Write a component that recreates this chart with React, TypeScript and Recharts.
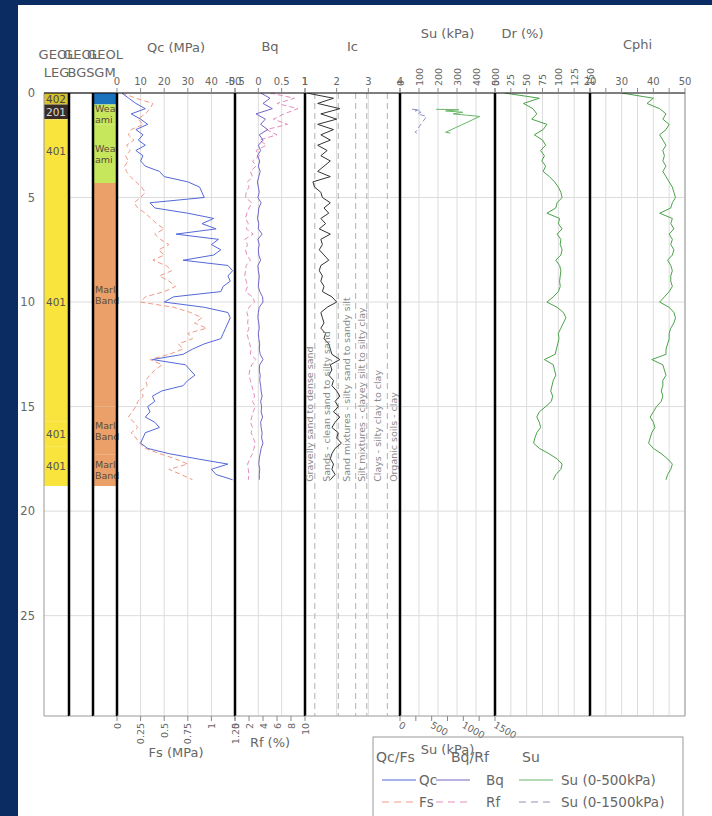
import React from 'react';
import {
  LineChart,
  Line,
  XAxis,
  YAxis,
  CartesianGrid,
  ReferenceArea,
  ReferenceLine,
  ReferenceDot,
} from 'recharts';

const FONT = '"DejaVu Sans", Verdana, sans-serif';

// CPT sampling depths (m)
const depths = [
  0, 0.25, 0.5, 0.75, 1, 1.25, 1.5, 1.75,
  2, 2.25, 2.5, 2.75, 3, 3.25, 3.5, 3.75,
  4, 4.25, 4.5, 4.75, 5, 5.25, 5.5, 5.75,
  6, 6.25, 6.5, 6.75, 7, 7.25, 7.5, 7.75,
  8, 8.25, 8.5, 8.75, 9, 9.25, 9.5, 9.75,
  10, 10.25, 10.5, 10.75, 11, 11.25, 11.5, 11.75,
  12, 12.25, 12.5, 12.75, 13, 13.25, 13.5, 13.75,
  14, 14.25, 14.5, 14.75, 15, 15.25, 15.5, 15.75,
  16, 16.25, 16.5, 16.75, 17, 17.25, 17.5, 17.75,
  18, 18.25, 18.5,
];

// cone resistance (MPa)
const qc = [
  2, 5, 8, 12, 6, 10, 13, 8,
  11, 9, 12, 8, 11, 10, 12, 18,
  20, 30, 35, 36, 37, 14, 16, 30,
  41, 36, 42, 25, 43, 40, 44, 41,
  28, 47, 49, 47, 48, 45, 44, 24,
  20, 37, 47, 48, 47, 46, 45, 44,
  37, 32, 28, 15, 29, 31, 33, 30,
  28, 19, 15, 16, 13, 14, 12, 16,
  18, 12, 11, 10, 13, 22, 34, 47,
  40, 42, 49,
];

// sleeve friction (MPa)
const fs = [
  0.05, 0.2, 0.38, 0.35, 0.3, 0.22, 0.28, 0.15,
  0.12, 0.18, 0.1, 0.14, 0.09, 0.12, 0.08, 0.1,
  0.14, 0.2, 0.26, 0.3, 0.25, 0.18, 0.22, 0.3,
  0.36, 0.42, 0.5, 0.4, 0.46, 0.55, 0.44, 0.5,
  0.38, 0.52, 0.58, 0.45, 0.55, 0.62, 0.5, 0.3,
  0.25, 0.6, 0.78, 0.9, 0.82, 0.95, 0.75, 0.8,
  0.65, 0.7, 0.55, 0.35, 0.48, 0.4, 0.35, 0.3,
  0.32, 0.25, 0.28, 0.22, 0.2, 0.16, 0.12, 0.18,
  0.22, 0.15, 0.2, 0.24, 0.3, 0.45, 0.62, 0.75,
  0.55, 0.68, 0.8,
];

const bq = [
  0.05, 0.25, 0.1, 0.3, -0.05, 0.15, 0.05, 0.2,
  0.02, 0.1, 0, 0.05, -0.02, 0.03, 0, 0.04,
  0.01, -0.02, 0, 0.02, -0.01, 0.06, 0.01, 0,
  -0.02, 0.01, 0, 0.08, -0.01, 0.02, 0, 0.01,
  0.05, -0.01, 0, 0.02, 0.01, 0, 0.03, 0.09,
  0.1, 0.02, 0, -0.01, 0.01, 0.02, 0, 0.01,
  0.03, 0.02, 0.04, 0.1, 0.03, 0.02, 0.04, 0.03,
  0.05, 0.06, 0.08, 0.05, 0.07, 0.06, 0.09, 0.05,
  0.06, 0.08, 0.07, 0.1, 0.06, 0.04, 0.02, 0.01,
  0.03, 0.02, 0.02,
];

// friction ratio (%)
const rf = [
  5, 8.5, 6, 9, 7, 5.5, 7.5, 4.5,
  6, 3.5, 4.5, 3, 3.5, 2.5, 3, 2.2,
  2.5, 1.8, 2, 1.6, 1.5, 2.4, 2, 1.7,
  1.5, 1.9, 1.6, 2.6, 1.4, 1.8, 1.5, 1.7,
  2.2, 1.6, 1.5, 1.4, 1.6, 1.8, 1.5, 2.5,
  2.8, 2, 1.7, 1.9, 1.8, 2, 1.7, 1.9,
  2.1, 2.3, 2.2, 3, 2.4, 2.1, 2, 2.2,
  2.4, 2.6, 2.8, 2.5, 2.9, 2.6, 2.4, 2.2,
  2.5, 2.3, 2.6, 2.9, 2.7, 2.5, 2.1, 1.8,
  1.9, 2, 1.9,
];

// soil behaviour type index
const ic = [
  1.05, 1.9, 1.4, 2.1, 1.5, 2.0, 1.4, 1.9,
  1.5, 1.8, 1.4, 1.7, 1.5, 1.8, 1.6, 1.4,
  1.8, 1.25, 1.3, 1.5, 1.55, 1.8, 1.6, 1.75,
  1.5, 1.65, 1.45, 1.8, 1.5, 1.55, 1.45, 1.6,
  1.75, 1.5, 1.45, 1.55, 1.5, 1.6, 1.55, 1.85,
  2.0, 1.7, 1.5, 1.55, 1.6, 1.5, 1.65, 1.6,
  1.75, 1.8, 1.85, 2.1, 1.8, 1.85, 1.75, 1.9,
  1.85, 2.0, 2.1, 1.95, 2.05, 1.9, 2.1, 1.95,
  1.85, 2.05, 2.0, 2.15, 1.95, 1.85, 1.8, 1.9,
  1.85, 1.95, 1.8,
];

// relative density (%)
const dr = [
  15, 70, 45, 60, 66, 58, 82, 76,
  62, 75, 80, 72, 78, 74, 80, 76,
  86, 94, 100, 104, 106, 98, 96, 82,
  102, 100, 106, 98, 104, 103, 106, 104,
  96, 102, 104, 103, 102, 103, 100, 92,
  82, 98, 108, 112, 108, 104, 100, 101,
  99, 97, 95, 78, 92, 94, 96, 92,
  90, 88, 91, 89, 80, 70, 66, 70,
  72, 66, 63, 61, 70, 85, 98, 106,
  104, 96, 92,
];

// friction angle (deg)
const cphi = [
  30, 40, 38, 42, 44, 43, 45, 44,
  42, 43, 44, 43, 43.5, 43, 44, 43,
  44, 45, 46, 46.5, 47, 46, 45.5, 42,
  46, 45.5, 46.5, 45, 46, 45.5, 46.5, 46,
  44.5, 45.5, 46, 45.5, 45.5, 46, 45, 43.5,
  42, 45, 46.5, 47, 46.5, 45.5, 45, 45,
  44.5, 44, 44, 39.5, 43, 43.5, 44, 43,
  43, 42.5, 43, 42.5, 41, 40, 39, 40,
  40.5, 39.5, 39, 38.5, 40, 42.5, 44.5, 46,
  45.5, 44.5, 44,
];

// undrained shear strength, only a few readings near the top
const suDepths = [0.78, 0.8, 0.86, 0.92, 1.0, 1.06, 1.12, 1.5, 1.88, 1.92];
const su = [190, 310, 240, 330, 280, 350, 420, null, 240, 265];

// geology columns
const legTop = [0, 0.55, 1.25, 4.3, 15.7, 16.9];
const legBase = [0.55, 1.25, 4.3, 15.7, 16.9, 18.8];
const legCode = ['402', '201', '401', '401', '401', '401'];

const gmTop = [0, 0.55, 1.5, 4.3, 15.0, 17.3];
const gmBase = [0.55, 1.5, 4.3, 15.0, 17.3, 18.8];
const gmName = ['', 'Wea ami', 'Wea ami', 'Marl Band', 'Marl Band', 'Marl Band'];

// Ic zone boundaries + names
const icBounds = [1.31, 2.05, 2.6, 2.95, 3.6];
const sbtNames = [
  'Gravelly sand to dense sand',
  'Sands - clean sand to silty sand',
  'Sand mixtures - silty sand to sandy silt',
  'Silt mixtures - clayey silt to silty clay',
  'Clays - silty clay to clay',
  'Organic soils - clay',
];

const depthTicks = [0, 5, 10, 15, 20, 25];

const cptRows = depths.map((depth, i) => ({
  depth,
  qc: qc[i],
  fs: fs[i],
  bq: bq[i],
  rf: rf[i],
  ic: ic[i],
  dr: dr[i],
  cphi: cphi[i],
}));
const suRows = suDepths.map((depth, i) => ({ depth, su: su[i] }));

const LEG_COLORS: any = { '402': '#d5c12f', '201': '#3a2c27', '401': '#f8e43c' };
const LEG_TEXT: any = { '402': '#444', '201': '#ddd', '401': '#555' };
const GM_COLORS: any = { '': '#1b72bd', 'Wea ami': '#c6e65c', 'Marl Band': '#eaa068' };

const C = {
  qc: '#5568d8',
  fs: '#f29a85',
  bq: '#7266c8',
  rf: '#e58bbd',
  su: '#69b869',
  su2: '#8b93c4',
  ic: '#333',
  green: '#4aa24a',
};

// layout
const CH = 816;
const PLOT_TOP = 93;
const PLOT_BOTTOM = 716;
const TOP_H = 70;
const BOT_H = 46;
const PAD = 26;
const DEPTH_MAX = 29.8;
const GRID = '#dcdcdc';
const tickStyle = { fontSize: 10, fill: '#666' };
const topLine = { stroke: '#111', strokeWidth: 1.2 };
const botLine = { stroke: '#aaa' };
const tl = { stroke: '#888' };

function Track({ x0, x1, data, depthAxis = false, children }: any) {
  const yw = depthAxis ? 36 : 0;
  const padL = depthAxis ? 4 : PAD;
  return (
    <div style={{ position: 'absolute', left: x0 - padL - yw, top: 0 }}>
      <LineChart
        layout="vertical"
        width={x1 - x0 + padL + yw + PAD}
        height={CH}
        data={data}
        margin={{ top: PLOT_TOP - TOP_H, bottom: CH - PLOT_BOTTOM - BOT_H, left: padL, right: PAD }}
        style={{ fontFamily: FONT }}
      >
        <YAxis
          type="number"
          dataKey="depth"
          domain={[0, DEPTH_MAX]}
          ticks={depthTicks}
          interval={0}
          hide={!depthAxis}
          width={36}
          tickLine={false}
          axisLine={{ stroke: '#999' }}
          tick={{ fontSize: 11.5, fill: '#666' }}
          tickMargin={3}
          allowDataOverflow
        />
        {children}
      </LineChart>
    </div>
  );
}

function AxisTitle({ viewBox, lines, baseY, shift = 0 }: any) {
  const cx = viewBox.x + viewBox.width / 2 + shift;
  return (
    <text x={cx} y={baseY} textAnchor="middle" fontSize={13} fill="#666" fontFamily={FONT}>
      {lines.map((l: string, i: number) => (
        <tspan key={i} x={cx} dy={i ? 18 : 0}>{l}</tspan>
      ))}
    </text>
  );
}

function LayerLabel({ viewBox, lines, color, size = 9.5 }: any) {
  if (!viewBox) return null;
  const x = viewBox.x + 2;
  const cy = viewBox.y + viewBox.height / 2;
  return (
    <text x={x} y={cy + size * 0.36 - (lines.length - 1) * 5.5} fontSize={size} fill={color} fontFamily={FONT}>
      {lines.map((l: string, i: number) => (
        <tspan key={i} x={x} dy={i ? 11 : 0}>{l}</tspan>
      ))}
    </text>
  );
}

function SbtLabel({ viewBox, text }: any) {
  const x = viewBox.x + viewBox.width / 2;
  const y = viewBox.y + viewBox.height / 2;
  return (
    <text x={x} y={y} transform={`rotate(-90 ${x} ${y})`} fontSize={9.5} fill="#8a8a8a"
      dominantBaseline="central" fontFamily={FONT}>
      {text}
    </text>
  );
}

const upTick = (p: any) => (
  <text x={p.x} y={p.y} transform={`rotate(-90 ${p.x} ${p.y})`} textAnchor="start"
    dominantBaseline="central" fontSize={9.5} fill="#666">
    {p.payload.value}
  </text>
);

const downTick = (p: any) => (
  <text x={p.x} y={p.y} transform={`rotate(-90 ${p.x} ${p.y})`} textAnchor="end"
    dominantBaseline="central" fontSize={9.5} fill="#666">
    {p.payload.value}
  </text>
);

const slantTick = (p: any) =>
  p.payload.value % 500 === 0 ? (
    <text x={p.x - 2} y={p.y + 4} transform={`rotate(30 ${p.x - 2} ${p.y + 4})`} textAnchor="start"
      fontSize={9.5} fill="#666">
      {p.payload.value}
    </text>
  ) : (
    <g />
  );

function emptyBottom() {
  return (
    <XAxis xAxisId="b" type="number" domain={[0, 1]} tick={false} tickLine={false}
      height={BOT_H} axisLine={botLine} allowDataOverflow />
  );
}

// geology tracks have no series of their own; an invisible line gives the x axis its scale
function scaleAnchor() {
  return (
    <Line xAxisId="t" dataKey="depth" stroke="none" dot={false} activeDot={false}
      isAnimationActive={false} />
  );
}

// thick black divider, drawn as the left edge of each track so the next chart can't paint over it
function divider(x: number) {
  return <ReferenceLine xAxisId="t" x={x} stroke="#000" strokeWidth={2.5} ifOverflow="visible" />;
}

const legendGroups = [
  { title: 'Qc/Fs', tx: 4, lx: 10, nx: 47, items: [['Qc', C.qc, false], ['Fs', C.fs, true]] },
  { title: 'Bq/Rf', tx: 79, lx: 64, nx: 114, items: [['Bq', C.bq, false], ['Rf', C.rf, true]] },
  { title: 'Su', tx: 150, lx: 147, nx: 189, items: [['Su (0-500kPa)', C.su, false], ['Su (0-1500kPa)', C.su2, true]] },
];

function LegendBox() {
  return (
    <svg width={312} height={90} style={{ position: 'absolute', left: 372, top: 736, fontFamily: FONT }}>
      <rect x={1} y={1} width={310} height={100} fill="none" stroke="#999" />
      {legendGroups.map((g) => (
        <g key={g.title}>
          <text x={g.tx} y={26} fontSize={14} fill="#666">{g.title}</text>
          {g.items.map((it: any, j: number) => (
            <g key={it[0]}>
              <line x1={g.lx} x2={g.lx + 34} y1={44 + j * 22} y2={44 + j * 22} stroke={it[1]}
                strokeDasharray={it[2] ? '7 5' : undefined} />
              <text x={g.nx} y={49 + j * 22} fontSize={13.5} fill="#666">{it[0]}</text>
            </g>
          ))}
        </g>
      ))}
    </svg>
  );
}

export default function App() {
  const icEdges = [1, ...icBounds, 4];
  return (
    <div style={{ position: 'absolute', left: 0, top: 0, width: 712, height: 816, background: '#0b2b63', overflow: 'hidden', fontFamily: FONT }}>
      <div style={{ position: 'absolute', left: 18, top: 5, width: 694, height: 811, background: '#fff' }} />

      {/* GEOL LEG */}
      <Track x0={44} x1={69} data={cptRows} depthAxis>
        <XAxis xAxisId="t" orientation="top" type="number" domain={[0, 1]} tick={false} tickLine={false}
          allowDataOverflow height={TOP_H} axisLine={topLine}
          label={<AxisTitle lines={['GEOL', 'LEG']} baseY={59} />} />
        {emptyBottom()}
        <CartesianGrid xAxisId="t" vertical={false} stroke={GRID} />
        {scaleAnchor()}
        {legTop.map((t, i) => (
          <ReferenceArea key={i} xAxisId="t" x1={0} x2={1} y1={t} y2={legBase[i]} ifOverflow="visible"
            fill={LEG_COLORS[legCode[i]]} fillOpacity={1} stroke="none"
            label={<LayerLabel lines={[legCode[i]]} color={LEG_TEXT[legCode[i]]} size={10.5} />} />
        ))}
      </Track>

      {/* GEOL BGS */}
      <Track x0={69} x1={93} data={cptRows}>
        <XAxis xAxisId="t" orientation="top" type="number" domain={[0, 1]} tick={false} tickLine={false}
          allowDataOverflow height={TOP_H} axisLine={topLine}
          label={<AxisTitle lines={['GEOL', 'BGS']} baseY={59} />} />
        {emptyBottom()}
        <CartesianGrid xAxisId="t" vertical={false} stroke={GRID} />
        {scaleAnchor()}
        {divider(0)}
      </Track>

      {/* GEOL GM */}
      <Track x0={93} x1={117} data={cptRows}>
        <XAxis xAxisId="t" orientation="top" type="number" domain={[0, 1]} tick={false} tickLine={false}
          allowDataOverflow height={TOP_H} axisLine={topLine}
          label={<AxisTitle lines={['GEOL', 'GM']} baseY={59} />} />
        {emptyBottom()}
        <CartesianGrid xAxisId="t" vertical={false} stroke={GRID} />
        {scaleAnchor()}
        {gmTop.map((t, i) => (
          <ReferenceArea key={i} xAxisId="t" x1={0} x2={1} y1={t} y2={gmBase[i]} ifOverflow="visible"
            fill={GM_COLORS[gmName[i]]} fillOpacity={1} stroke="none"
            label={<LayerLabel lines={gmName[i] ? gmName[i].split(' ') : []} color="#5a4a3a" />} />
        ))}
        {divider(0)}
      </Track>

      {/* Qc / Fs */}
      <Track x0={117} x1={235} data={cptRows}>
        <XAxis xAxisId="t" orientation="top" type="number" domain={[0, 50]} ticks={[0, 10, 20, 30, 40, 50]}
          interval={0} height={TOP_H} axisLine={topLine} tickLine={tl} tickSize={5} tickMargin={3}
          tick={tickStyle} allowDataOverflow label={<AxisTitle lines={['Qc (MPa)']} baseY={52} />} />
        <XAxis xAxisId="b" type="number" domain={[0, 1.25]} ticks={[0, 0.25, 0.5, 0.75, 1, 1.25]}
          interval={0} height={BOT_H} axisLine={botLine} tickLine={tl} tickSize={5} tickMargin={2}
          tick={downTick} allowDataOverflow label={<AxisTitle lines={['Fs (MPa)']} baseY={757} />} />
        <CartesianGrid xAxisId="t" stroke={GRID} />
        <Line xAxisId="b" dataKey="fs" stroke={C.fs} strokeDasharray="5 3" strokeWidth={1} dot={false} isAnimationActive={false} />
        <Line xAxisId="t" dataKey="qc" stroke={C.qc} strokeWidth={1} dot={false} isAnimationActive={false} />
        {divider(0)}
      </Track>

      {/* Bq / Rf */}
      <Track x0={235} x1={305} data={cptRows}>
        <XAxis xAxisId="t" orientation="top" type="number" domain={[-0.5, 1]} ticks={[-0.5, 0, 0.5, 1]}
          interval={0} height={TOP_H} axisLine={topLine} tickLine={tl} tickSize={5} tickMargin={3}
          tick={tickStyle} allowDataOverflow label={<AxisTitle lines={['Bq']} baseY={51} />} />
        <XAxis xAxisId="b" type="number" domain={[0, 10]} ticks={[0, 2, 4, 6, 8, 10]}
          interval={0} height={BOT_H} axisLine={botLine} tickLine={tl} tickSize={5} tickMargin={2}
          tick={downTick} allowDataOverflow label={<AxisTitle lines={['Rf (%)']} baseY={747} />} />
        <CartesianGrid xAxisId="t" stroke={GRID} />
        <Line xAxisId="b" dataKey="rf" stroke={C.rf} strokeDasharray="5 3" strokeWidth={1} dot={false} isAnimationActive={false} />
        <Line xAxisId="t" dataKey="bq" stroke={C.bq} strokeWidth={1} dot={false} isAnimationActive={false} />
        {divider(-0.5)}
      </Track>

      {/* Ic */}
      <Track x0={305} x1={400} data={cptRows}>
        <XAxis xAxisId="t" orientation="top" type="number" domain={[1, 4]} ticks={[1, 2, 3, 4]}
          interval={0} height={TOP_H} axisLine={topLine} tickLine={tl} tickSize={5} tickMargin={3}
          tick={tickStyle} allowDataOverflow label={<AxisTitle lines={['Ic']} baseY={51} />} />
        {emptyBottom()}
        <CartesianGrid xAxisId="t" stroke={GRID} />
        {icBounds.map((b) => (
          <ReferenceLine key={b} xAxisId="t" x={b} stroke="#b0b0b0" strokeDasharray="6 4" />
        ))}
        {sbtNames.map((name, i) => (
          <ReferenceDot key={name} xAxisId="t" x={(icEdges[i] + icEdges[i + 1]) / 2} y={18.6} r={0.5}
            fill="none" stroke="none" label={<SbtLabel text={name} />} />
        ))}
        <Line xAxisId="t" dataKey="ic" stroke={C.ic} strokeWidth={1} dot={false} isAnimationActive={false} />
        {divider(1)}
      </Track>

      {/* Su */}
      <Track x0={400} x1={495} data={suRows}>
        <XAxis xAxisId="t" orientation="top" type="number" domain={[0, 500]} ticks={[0, 100, 200, 300, 400, 500]}
          interval={0} height={TOP_H} axisLine={topLine} tickLine={tl} tickSize={5} tickMargin={2}
          tick={upTick} allowDataOverflow label={<AxisTitle lines={['Su (kPa)']} baseY={38} />} />
        <XAxis xAxisId="b" type="number" domain={[0, 1500]} ticks={[0, 250, 500, 750, 1000, 1250, 1500]}
          interval={0} height={BOT_H} axisLine={botLine} tickLine={tl} tickSize={5} tickMargin={2}
          tick={slantTick} allowDataOverflow label={<AxisTitle lines={['Su (kPa)']} baseY={754} />} />
        <CartesianGrid xAxisId="t" stroke={GRID} />
        <Line xAxisId="b" dataKey="su" stroke={C.su2} strokeDasharray="5 3" strokeWidth={1} dot={false} isAnimationActive={false} />
        <Line xAxisId="t" dataKey="su" stroke={C.su} strokeWidth={1} dot={false} isAnimationActive={false} />
        {divider(0)}
      </Track>

      {/* Dr */}
      <Track x0={495} x1={590} data={cptRows}>
        <XAxis xAxisId="t" orientation="top" type="number" domain={[0, 150]} ticks={[0, 25, 50, 75, 100, 125, 150]}
          interval={0} height={TOP_H} axisLine={topLine} tickLine={tl} tickSize={5} tickMargin={2}
          tick={upTick} allowDataOverflow label={<AxisTitle lines={['Dr (%)']} baseY={38} shift={-20} />} />
        {emptyBottom()}
        <CartesianGrid xAxisId="t" stroke={GRID} />
        <Line xAxisId="t" dataKey="dr" stroke={C.green} strokeWidth={1} dot={false} isAnimationActive={false} />
        {divider(0)}
      </Track>

      {/* Cphi */}
      <Track x0={590} x1={685} data={cptRows}>
        <XAxis xAxisId="t" orientation="top" type="number" domain={[20, 50]} ticks={[20, 25, 30, 35, 40, 45, 50]}
          interval={0} height={TOP_H} axisLine={topLine} tickLine={tl} tickSize={5} tickMargin={3}
          tick={tickStyle} tickFormatter={(v: number) => (v % 10 === 0 ? String(v) : '')} allowDataOverflow
          label={<AxisTitle lines={['Cphi']} baseY={49} />} />
        {emptyBottom()}
        <CartesianGrid xAxisId="t" stroke={GRID} />
        <Line xAxisId="t" dataKey="cphi" stroke={C.green} strokeWidth={1} dot={false} isAnimationActive={false} />
        {divider(20)}
        <ReferenceLine xAxisId="t" x={50} stroke="#999" strokeWidth={1} ifOverflow="visible" />
      </Track>

      <LegendBox />
    </div>
  );
}
